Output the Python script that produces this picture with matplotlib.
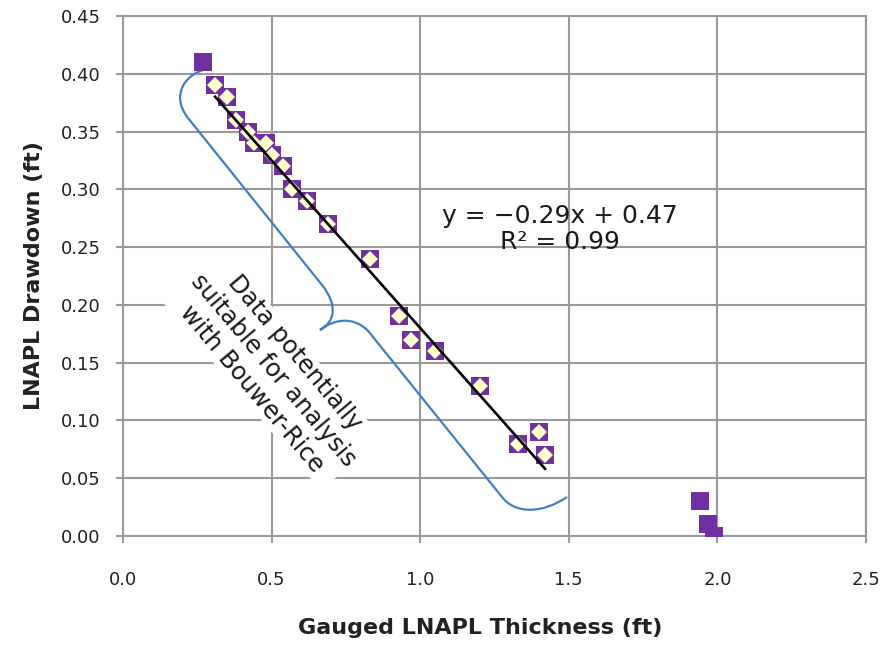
import numpy as np
import matplotlib
matplotlib.use("Agg")
import matplotlib.pyplot as plt
from matplotlib.path import Path
from matplotlib.patches import PathPatch

# ---- data ----
fit_x = [0.31, 0.35, 0.38, 0.42, 0.44, 0.48, 0.50, 0.54, 0.57, 0.62, 0.69,
         0.83, 0.93, 0.97, 1.05, 1.20, 1.33, 1.40, 1.42]
fit_y = [0.39, 0.38, 0.36, 0.35, 0.34, 0.34, 0.33, 0.32, 0.30, 0.29, 0.27,
         0.24, 0.19, 0.17, 0.16, 0.13, 0.08, 0.09, 0.07]
other_x = [0.27, 1.94, 1.97, 1.99]
other_y = [0.41, 0.03, 0.01, 0.00]
slope = -0.29
intercept = 0.47
r2 = 0.99
x_ticks = [0.0, 0.5, 1.0, 1.5, 2.0, 2.5]
y_ticks = [0.00, 0.05, 0.10, 0.15, 0.20, 0.25, 0.30, 0.35, 0.40, 0.45]

purple = "#7030A0"
cream = "#FFFFCC"
grid_c = "#9A9A9A"

fig = plt.figure(figsize=(8.83, 6.47), dpi=100)
ax = fig.add_axes([123/883, 1-536/647, (866-123)/883, (536-16)/647])
ax.set_xlim(0, 2.5)
ax.set_ylim(0, 0.45)
ax.set_xticks(x_ticks)
ax.set_yticks(y_ticks)
ax.set_xticklabels([f"{v:.1f}" for v in x_ticks])
ax.set_yticklabels([f"{v:.2f}" for v in y_ticks])
ax.grid(True, color=grid_c, linewidth=1.5, zorder=0)
ax.set_axisbelow(True)
for s in ax.spines.values():
    s.set_color(grid_c)
    s.set_linewidth(1.5)
ax.tick_params(axis="both", colors=grid_c, length=5, width=1.5,
               labelcolor="#222222", labelsize=13)
ax.tick_params(axis="x", pad=20)
ax.tick_params(axis="y", pad=11)

# brace annotation (pixel-derived shape converted to data coords)
def px(p):
    return ((p[0]-123)/297.2, (536-p[1])/1155.6)
verts_px = [(211, 68),
            (185, 72), (170, 95), (188, 118),
            (322, 285),
            (338, 305), (335, 322), (320, 330),
            (335, 318), (358, 315), (373, 337),
            (502, 497),
            (515, 514), (542, 514), (567, 497)]
codes = [Path.MOVETO,
         Path.CURVE4, Path.CURVE4, Path.CURVE4,
         Path.LINETO,
         Path.CURVE4, Path.CURVE4, Path.CURVE4,
         Path.CURVE4, Path.CURVE4, Path.CURVE4,
         Path.LINETO,
         Path.CURVE4, Path.CURVE4, Path.CURVE4]
brace = PathPatch(Path([px(v) for v in verts_px], codes), facecolor="none",
                  edgecolor="#3F7FC4", linewidth=1.6, zorder=2)
ax.add_patch(brace)

ax.text(0.505, 0.143, "Data potentially\nsuitable for analysis\nwith Bouwer-Rice",
        rotation=-50, rotation_mode="anchor", ha="center", va="center",
        multialignment="center", fontsize=17.5, color="#1a1a1a", linespacing=1.2,
        bbox=dict(facecolor="white", edgecolor="none", pad=0.5), zorder=3)

# points
ax.plot(other_x, other_y, linestyle="none", marker="s", markersize=13,
        color=purple, markeredgewidth=0, zorder=4)
ax.plot(fit_x, fit_y, linestyle="none", marker="s", markersize=13,
        color=purple, markeredgewidth=0, zorder=4)
ax.plot(fit_x, fit_y, linestyle="none", marker="D", markersize=8.2,
        color=cream, markeredgewidth=0, zorder=5)

# trend line
xl = np.array([min(fit_x), max(fit_x)])
ax.plot(xl, slope*xl + intercept, color="black", linewidth=1.9, zorder=6)

ax.text(1.47, 0.266, f"y = \u2212{abs(slope):.2f}x + {intercept:.2f}\nR\u00b2 = {r2:.2f}",
        ha="center", va="center", multialignment="center", fontsize=18,
        color="#1a1a1a", linespacing=1.1, zorder=7)

ax.set_xlabel("Gauged LNAPL Thickness (ft)", fontsize=16, fontweight="bold",
              color="#222222")
ax.xaxis.set_label_coords((480-123)/743, -(618-536)/520)
ax.set_ylabel("LNAPL Drawdown (ft)", fontsize=16, fontweight="bold",
              color="#222222")
ax.yaxis.set_label_coords(-(123-44)/743, 0.5)

fig.savefig("out.png", dpi=100)
